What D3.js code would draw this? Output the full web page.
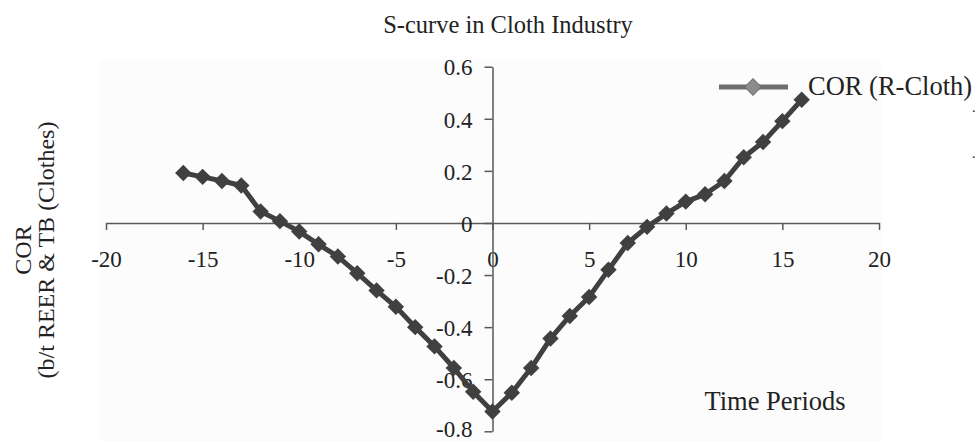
<!DOCTYPE html>
<html lang="en">
<head>
    <meta charset="UTF-8">
    <title>S-curve in Cloth Industry</title>
    <script src="https://cdn.jsdelivr.net/npm/d3@7"></script>
    <style>
        body { margin: 0; background: #fff; }
        text { font-family: "Liberation Serif", "Times New Roman", serif; fill: #222; }
    </style>
</head>
<body>
    <script>
        // data
        var periods = [-16, -15, -14, -13, -12, -11, -10, -9, -8, -7, -6, -5, -4, -3, -2, -1,
                       0, 1, 2, 3, 4, 5, 6, 7, 8, 9, 10, 11, 12, 13, 14, 15, 16];
        var corCloth = [0.192, 0.177, 0.161, 0.144, 0.044, 0.007, -0.033, -0.082, -0.129, -0.193,
                        -0.259, -0.322, -0.400, -0.474, -0.557, -0.648, -0.724, -0.652, -0.557,
                        -0.444, -0.357, -0.284, -0.180, -0.077, -0.015, 0.036, 0.082, 0.110,
                        0.161, 0.252, 0.311, 0.391, 0.473];
        var xTicks = [-20, -15, -10, -5, 0, 5, 10, 15, 20];
        var yTicks = [-0.8, -0.6, -0.4, -0.2, 0, 0.2, 0.4, 0.6];
        var seriesName = "COR (R-Cloth)";

        var width = 979,
            height = 442;

        var svg = d3.select("body").append("svg")
            .attr("width", width)
            .attr("height", height);

        var x = d3.scaleLinear().domain([-20, 20]).range([106, 879]);
        var y = d3.scaleLinear().domain([-0.8, 0.6]).range([431.3, 66.7]);

        var fmt = function (d) { return d === 0 ? "0" : d.toFixed(1); };

        // faint plot panel
        svg.append("rect")
            .attr("x", 100).attr("y", 60)
            .attr("width", 782).attr("height", 382)
            .attr("fill", "#fcfcfc");

        // x axis crosses at y = 0
        var xAxis = svg.append("g")
            .attr("transform", "translate(0," + y(0) + ")")
            .call(d3.axisBottom(x).tickValues(xTicks).tickSize(7).tickSizeOuter(0).tickPadding(21)
                .tickFormat(function (d) { return String(d); }));

        // y axis crosses at x = 0
        var yAxis = svg.append("g")
            .attr("transform", "translate(" + x(0) + ",0)")
            .call(d3.axisLeft(y).tickValues(yTicks).tickSize(8).tickSizeOuter(0).tickPadding(12)
                .tickFormat(fmt));

        [xAxis, yAxis].forEach(function (g) {
            g.selectAll("path, line").attr("stroke", "#595959").attr("stroke-width", 1.5);
            g.selectAll("text")
                .style("font-family", "Liberation Serif")
                .style("font-size", "23px")
                .attr("fill", "#222");
        });
        // bottom label sits right on the edge, nudge it up so it stays inside
        yAxis.selectAll("text").attr("dy", function (d) { return d === -0.8 ? "0.22em" : "0.36em"; });

        var data = periods.map(function (p, i) { return { p: p, v: corCloth[i] }; });

        var line = d3.line()
            .x(function (d) { return x(d.p); })
            .y(function (d) { return y(d.v); });

        svg.append("path")
            .datum(data)
            .attr("d", line)
            .attr("fill", "none")
            .attr("stroke", "#404040")
            .attr("stroke-width", 5)
            .attr("stroke-linejoin", "round");

        var diamond = d3.symbol().type(d3.symbolSquare).size(135);

        svg.selectAll(".marker")
            .data(data)
            .enter().append("path")
            .attr("class", "marker")
            .attr("d", diamond)
            .attr("transform", function (d) {
                return "translate(" + x(d.p) + "," + y(d.v) + ") rotate(45)";
            })
            .attr("fill", "#404040");

        // title
        svg.append("text")
            .attr("x", 508).attr("y", 33)
            .attr("text-anchor", "middle")
            .style("font-size", "24.5px")
            .text("S-curve in Cloth Industry");

        // axis titles
        var yTitle = svg.append("g").attr("transform", "translate(0,250) rotate(-90)");
        yTitle.append("text")
            .attr("x", 0).attr("y", 31)
            .attr("text-anchor", "middle")
            .style("font-size", "24px")
            .text("COR");
        yTitle.append("text")
            .attr("x", 0).attr("y", 54)
            .attr("text-anchor", "middle")
            .style("font-size", "24px")
            .text("(b/t REER & TB (Clothes)");

        svg.append("text")
            .attr("x", 775).attr("y", 410)
            .attr("text-anchor", "middle")
            .style("font-size", "26.5px")
            .text("Time Periods");

        // legend
        var legend = svg.append("g");
        legend.append("line")
            .attr("x1", 719).attr("x2", 788)
            .attr("y1", 87).attr("y2", 87)
            .attr("stroke", "#6e6e6e")
            .attr("stroke-width", 5);
        legend.append("path")
            .attr("d", diamond)
            .attr("transform", "translate(753,87) rotate(45)")
            .attr("fill", "#8c8c8c")
            .attr("stroke", "#6e6e6e")
            .attr("stroke-width", 1);
        legend.append("text")
            .attr("x", 808).attr("y", 95)
            .style("font-size", "26.5px")
            .text(seriesName);

        // stray dots at the right edge
        svg.append("text").attr("x", 972).attr("y", 112).style("font-size", "14px").text(".");
        svg.append("text").attr("x", 972).attr("y", 158).style("font-size", "14px").text(".");
    </script>
</body>
</html>
